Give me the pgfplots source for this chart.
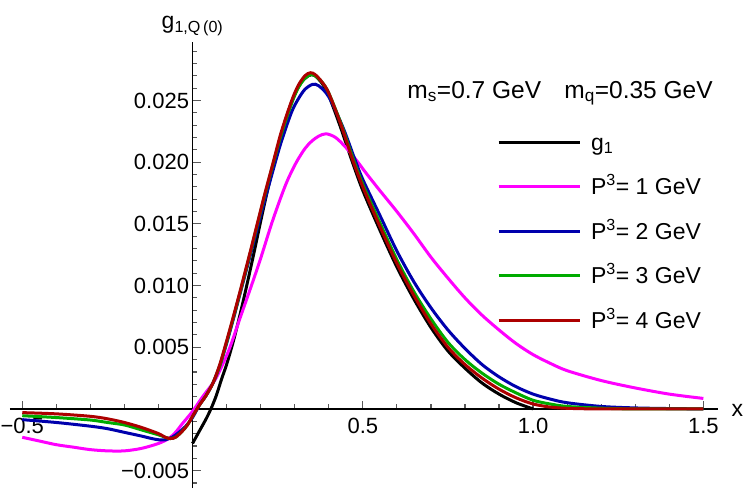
\documentclass[border=0pt]{standalone}
\usepackage{fontspec}
\setmainfont{Liberation Sans}
\usepackage{pgfplots}
\pgfplotsset{compat=1.18}
\definecolor{cmag}{rgb}{1,0,1}
\definecolor{cblue}{rgb}{0,0,0.68}
\definecolor{cgreen}{rgb}{0,0.67,0}
\definecolor{cred}{rgb}{0.68,0,0}
\newcommand\tfont{\fontsize{22}{26}\selectfont}
\newcommand\lfont{\fontsize{23}{27}\selectfont}
\newcommand\afont{\fontsize{24.5}{28}\selectfont}
\newcommand\lsp{\hspace{8pt}}
\begin{document}
\begin{tikzpicture}
\begin{axis}[
 scale only axis, width=708pt, height=446pt,
 xmin=-0.536, xmax=1.543, ymin=-0.00641, ymax=0.02974,
 axis lines=middle,
 axis line style={-, line width=1.6pt, black},
 tick align=inside,
 major tick length=8pt, minor tick length=4.5pt,
 every tick/.style={line width=1.2pt, black!65},
 scaled ticks=false,
 xtick={-0.5,0.5,1,1.5}, xticklabels={−0.5,0.5,1.0,1.5},
 minor xtick={-0.4,-0.3,-0.2,-0.1,0.1,0.2,0.3,0.4,0.6,0.7,0.8,0.9,1.1,1.2,1.3,1.4},
 ytick={-0.005,0.005,0.01,0.015,0.02,0.025},
 yticklabels={−0.005,0.005,0.010,0.015,0.020,0.025},
 minor ytick={-0.006,-0.004,-0.003,-0.002,-0.001,0.001,0.002,0.003,0.004,0.006,0.007,0.008,0.009,0.011,0.012,0.013,0.014,0.016,0.017,0.018,0.019,0.021,0.022,0.023,0.024,0.026,0.027,0.028,0.029},
 ticklabel style={font=\tfont},
 xticklabel style={yshift=-6pt},
 xlabel={x}, ylabel={g\textsubscript{1,Q\,(0)}},
 every axis x label/.style={at={(axis cs:1.543,0)}, anchor=west, xshift=10pt, yshift=-2pt, font=\lfont},
 every axis y label/.style={at={(axis cs:0,0.02974)}, anchor=south, yshift=3pt, font=\lfont},
 legend style={at={(axis cs:0.8937,0.02253)}, anchor=north west, draw=none, fill=none, inner sep=0pt, row sep=22pt, font=\lfont,
   cells={anchor=base west, inner sep=0pt, text height=17pt, text depth=5pt}},
 legend image code/.code={\draw[#1] (0pt,8pt) -- (81pt,8pt);},
]
\addplot[black, smooth, line width=3pt] coordinates {(0,-0.0028) (0.02,-0.0018) (0.04,-0.0008) (0.054,0) (0.07,0.0011) (0.085,0.0024) (0.1,0.0036) (0.12,0.0055) (0.14,0.0077) (0.16,0.0101) (0.18,0.0126) (0.20,0.0152) (0.22,0.0177) (0.24,0.0200) (0.26,0.0222) (0.28,0.0240) (0.30,0.0255) (0.32,0.0265) (0.34,0.0270) (0.35,0.0271) (0.36,0.0270) (0.38,0.0264) (0.40,0.0254) (0.435,0.0228) (0.467,0.0202) (0.50,0.0177) (0.55,0.0145) (0.60,0.0115) (0.65,0.0089) (0.70,0.0066) (0.75,0.0047) (0.80,0.0033) (0.85,0.0021) (0.90,0.0012) (0.95,0.0005) (1.0,0)};
\addlegendentry{\lsp g\textsubscript{1}}
\addplot[cmag, smooth, line width=3pt] coordinates {(-0.5,-0.0023) (-0.45,-0.0026) (-0.4,-0.0029) (-0.35,-0.0031) (-0.3,-0.0033) (-0.25,-0.0034) (-0.2,-0.0034) (-0.15,-0.0032) (-0.1,-0.0028) (-0.07,-0.0024) (-0.05,-0.0019) (-0.03,-0.0012) (0,-0.0002) (0.03,0.0010) (0.065,0.0023) (0.09,0.0037) (0.11,0.0050) (0.14,0.0074) (0.173,0.0100) (0.20,0.0122) (0.232,0.0150) (0.26,0.0172) (0.28,0.0186) (0.305,0.0200) (0.33,0.0211) (0.35,0.0217) (0.37,0.0221) (0.392,0.0223) (0.42,0.0220) (0.45,0.0212) (0.48,0.0202) (0.51,0.0191) (0.55,0.0177) (0.60,0.0160) (0.65,0.0142) (0.70,0.0123) (0.75,0.0106) (0.80,0.0090) (0.85,0.0076) (0.90,0.0064) (0.95,0.0053) (1.0,0.0044) (1.05,0.0037) (1.1,0.0031) (1.2,0.0023) (1.3,0.0017) (1.4,0.0012) (1.5,0.00085)};
\addlegendentry{\lsp P\textsuperscript{3}= 1 GeV}
\addplot[cblue, smooth, line width=3pt] coordinates {(-0.5,-0.00087) (-0.4,-0.0011) (-0.3,-0.0014) (-0.25,-0.0016) (-0.2,-0.0019) (-0.15,-0.0022) (-0.12,-0.0024) (-0.1,-0.0025) (-0.08,-0.0025) (-0.06,-0.0023) (-0.04,-0.0019) (-0.02,-0.0014) (0,-0.0007) (0.02,0.0003) (0.04,0.0011) (0.06,0.0021) (0.08,0.0035) (0.10,0.0053) (0.12,0.0073) (0.144,0.0098) (0.17,0.0125) (0.19,0.0146) (0.21,0.0167) (0.237,0.0194) (0.26,0.0216) (0.29,0.0240) (0.31,0.0251) (0.33,0.0259) (0.352,0.0263) (0.37,0.0262) (0.40,0.0253) (0.442,0.0228) (0.477,0.0202) (0.50,0.0186) (0.55,0.0157) (0.60,0.0128) (0.65,0.0103) (0.70,0.0082) (0.75,0.0064) (0.80,0.0049) (0.85,0.0036) (0.90,0.0026) (0.95,0.0018) (1.0,0.0012) (1.05,0.0008) (1.1,0.0005) (1.2,0.0002) (1.3,0.00008) (1.4,0.00003) (1.5,0)};
\addlegendentry{\lsp P\textsuperscript{3}= 2 GeV}
\addplot[cgreen, smooth, line width=3pt] coordinates {(-0.5,-0.00055) (-0.4,-0.0007) (-0.3,-0.0009) (-0.25,-0.0011) (-0.2,-0.0013) (-0.15,-0.0017) (-0.1,-0.0021) (-0.08,-0.0023) (-0.065,-0.0024) (-0.05,-0.0023) (-0.03,-0.0018) (-0.015,-0.0013) (0,-0.0006) (0.02,0.0003) (0.04,0.0011) (0.06,0.0021) (0.08,0.0035) (0.10,0.0054) (0.12,0.0074) (0.144,0.0099) (0.17,0.0127) (0.19,0.0149) (0.21,0.0171) (0.237,0.0199) (0.26,0.0222) (0.29,0.0247) (0.31,0.0260) (0.33,0.0268) (0.347,0.0271) (0.36,0.0270) (0.38,0.0265) (0.40,0.0256) (0.435,0.0232) (0.47,0.0204) (0.50,0.0182) (0.55,0.0151) (0.60,0.0121) (0.65,0.0095) (0.70,0.0073) (0.75,0.0054) (0.80,0.0040) (0.85,0.0029) (0.90,0.0020) (0.95,0.0013) (1.0,0.0007) (1.05,0.0004) (1.1,0.0002) (1.2,0.00006) (1.3,0) (1.5,0)};
\addlegendentry{\lsp P\textsuperscript{3}= 3 GeV}
\addplot[cred, smooth, line width=3pt] coordinates {(-0.5,-0.0003) (-0.4,-0.0004) (-0.3,-0.0006) (-0.25,-0.0008) (-0.2,-0.0011) (-0.15,-0.0015) (-0.1,-0.0020) (-0.08,-0.0023) (-0.065,-0.0024) (-0.05,-0.0023) (-0.03,-0.0018) (-0.015,-0.0013) (0,-0.0006) (0.02,0.0003) (0.04,0.0011) (0.06,0.0021) (0.08,0.0036) (0.10,0.0055) (0.12,0.0075) (0.144,0.0100) (0.17,0.0128) (0.19,0.0150) (0.21,0.0172) (0.237,0.0200) (0.26,0.0224) (0.29,0.0249) (0.31,0.0262) (0.33,0.0270) (0.346,0.02725) (0.36,0.0271) (0.38,0.0265) (0.40,0.0256) (0.435,0.0231) (0.47,0.0202) (0.50,0.0180) (0.55,0.0148) (0.60,0.0118) (0.65,0.0092) (0.70,0.0069) (0.75,0.0050) (0.80,0.0036) (0.85,0.0025) (0.90,0.0016) (0.95,0.0009) (1.0,0.0004) (1.05,0.00015) (1.1,0.00005) (1.2,0) (1.5,0)};
\addlegendentry{\lsp P\textsuperscript{3}= 4 GeV}
\node[anchor=base east, font=\afont, inner sep=0pt] at (axis cs:1.528,0.0252) {m\textsubscript{s}=0.7 GeV\hspace{0.95em}m\textsubscript{q}=0.35 GeV};
\end{axis}
\pgfresetboundingbox
\path (-10pt,0pt) rectangle (740pt,488pt);
\end{tikzpicture}
\end{document}
